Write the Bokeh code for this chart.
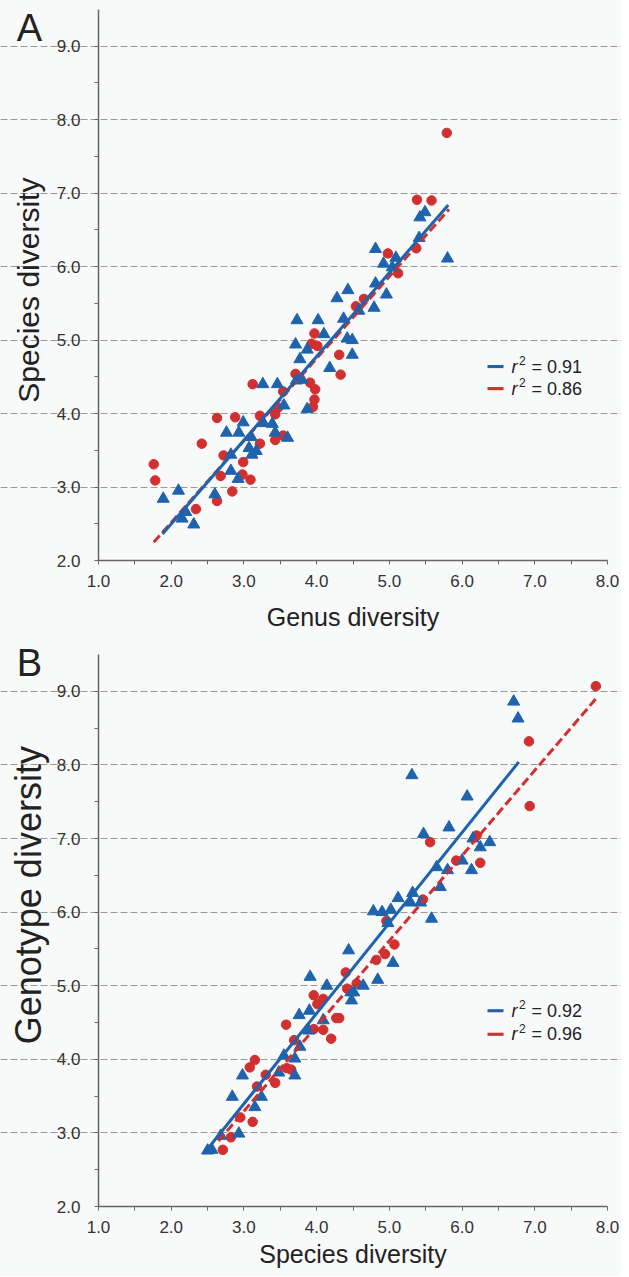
import math
from bokeh.plotting import figure
from bokeh.layouts import column
from bokeh.models import FixedTicker, NumeralTickFormatter, Label, BoxAnnotation, Range1d
from bokeh.embed import file_html
from bokeh.resources import INLINE

# ---------------- Panel A data: genus diversity (x) vs species diversity (y)
a_red_x = [1.76, 1.78, 2.42, 2.34, 2.63, 2.88, 2.72, 2.68, 2.63, 2.84, 2.99, 2.98, 3.09, 3.12,
           3.22, 3.22, 3.54, 3.47, 3.43, 3.43, 3.54, 3.71, 3.91, 3.98, 3.97, 3.95, 3.97, 3.93,
           4.01, 4.31, 4.33, 4.54, 4.65, 5.79, 5.38, 5.58, 5.37, 4.98, 5.12]
a_red_y = [3.31, 3.09, 3.59, 2.70, 3.94, 3.95, 3.43, 3.15, 2.81, 2.94, 3.34, 3.17, 3.10, 4.40,
           3.97, 3.59, 4.30, 4.08, 3.99, 3.64, 3.70, 4.54, 4.42, 4.33, 4.19, 4.09, 5.09, 4.95,
           4.92, 4.80, 4.53, 5.46, 5.56, 7.82, 6.91, 6.90, 6.25, 6.18, 5.91]
a_blue_x = [1.89, 2.10, 2.15, 2.20, 2.31, 2.60, 2.76, 2.99, 2.93, 2.82, 2.82, 2.92, 3.10, 3.07,
            3.17, 3.11, 3.26, 3.27, 3.39, 3.43, 3.46, 3.55, 3.60, 3.71, 3.73, 3.77, 3.87, 3.72,
            3.80, 3.87, 4.02, 4.10, 4.18, 4.28, 4.43, 4.37, 4.42, 4.49, 4.49, 4.58, 4.79, 4.96,
            4.81, 5.04, 5.09, 4.92, 4.81, 5.42, 5.49, 5.41, 5.80]
a_blue_y = [2.84, 2.95, 2.57, 2.66, 2.49, 2.90, 3.74, 3.88, 3.74, 3.44, 3.22, 3.11, 3.68, 3.53,
            3.49, 3.44, 4.40, 3.87, 3.86, 3.74, 4.40, 4.11, 3.67, 4.94, 5.27, 4.74, 4.87, 4.45,
            4.46, 4.06, 5.27, 5.08, 4.62, 5.57, 5.68, 5.29, 5.02, 5.00, 4.80, 5.40, 5.44, 5.62,
            5.77, 5.99, 6.12, 6.04, 6.24, 6.67, 6.74, 6.39, 6.11]
a_blue_fit_x = [1.88, 5.81]
a_blue_fit_y = [2.36, 6.84]
a_red_fit_x = [1.76, 5.82]
a_red_fit_y = [2.25, 6.78]
a_r2 = ["0.91", "0.86"]

# ---------------- Panel B data: species diversity (x) vs genotype diversity (y)
b_red_x = [2.71, 2.82, 2.95, 3.12, 3.08, 3.15, 3.18, 3.30, 3.43, 3.58, 3.59, 3.65, 3.69, 3.96,
           4.01, 4.09, 3.96, 4.09, 4.20, 4.27, 4.31, 4.40, 4.42, 4.55, 4.82, 4.94, 5.07, 4.96,
           5.46, 5.56, 5.92, 6.20, 6.25, 6.92, 6.93, 7.84]
b_red_y = [2.77, 2.94, 3.21, 3.15, 3.89, 3.99, 3.63, 3.79, 3.68, 4.47, 3.88, 3.86, 4.26, 4.87,
           4.75, 4.82, 4.41, 4.40, 4.28, 4.56, 4.56, 5.18, 4.96, 5.03, 5.35, 5.43, 5.56, 5.88,
           6.17, 6.95, 6.70, 7.04, 6.67, 8.32, 7.44, 9.07]
b_blue_x = [2.50, 2.56, 2.68, 2.93, 2.84, 2.98, 3.15, 3.24, 3.48, 3.55, 3.70, 3.70, 3.77, 3.76,
            3.90, 3.91, 3.89, 4.09, 4.14, 4.44, 4.47, 4.48, 4.51, 4.64, 4.84, 5.05, 4.78, 4.90,
            5.02, 4.98, 5.12, 5.29, 5.32, 5.43, 5.58, 5.47, 5.31, 5.65, 5.80, 5.70, 5.82, 6.00,
            6.13, 6.15, 6.25, 6.38, 6.07, 6.71, 6.77]
b_blue_y = [2.76, 2.77, 2.96, 2.99, 3.49, 3.78, 3.35, 3.49, 3.82, 4.05, 4.01, 3.78, 4.17, 4.60,
            4.66, 5.12, 4.39, 4.53, 5.00, 5.48, 4.91, 4.80, 4.91, 5.00, 5.08, 5.31, 6.01, 6.00,
            6.03, 5.85, 6.19, 6.13, 6.26, 6.13, 5.91, 7.06, 7.86, 6.61, 6.57, 6.34, 7.15, 6.70,
            6.57, 7.00, 6.88, 6.95, 7.57, 8.86, 8.63]
b_blue_fit_x = [2.45, 6.78]
b_blue_fit_y = [2.72, 8.04]
b_red_fit_x = [2.65, 7.85]
b_red_fit_y = [2.89, 8.91]
b_r2 = ["0.92", "0.96"]

x_ticks = [1, 2, 3, 4, 5, 6, 7, 8]
y_ticks = [2, 3, 4, 5, 6, 7, 8, 9]

BLUE = "#1f63ad"
RED = "#d0302f"
BG = "#f8f9f9"
FONT = "Liberation Sans"

# The plotting frame fills the whole figure; axes are pinned with fixed_location so that
# labels placed beside them are never clipped.
PX_PER_X = 509 / 7
X_RANGE = (1 - 98 / PX_PER_X, 8 + 14 / PX_PER_X)
FIG_W = 621


def make_panel(letter, letter_y, xlabel, ylabel, ylabel_y, ylabel_size,
               red_x, red_y, blue_x, blue_y, bfx, bfy, rfx, rfy, r2,
               height, top_px, bottom_px, xlabel_standoff, leg_y):
    px_per_y = (height - top_px - bottom_px) / 7.5
    y_rng = (2 - bottom_px / px_per_y, 9.5 + top_px / px_per_y)
    p = figure(width=FIG_W, height=height, output_backend="svg", toolbar_location=None,
               x_range=Range1d(*X_RANGE), y_range=Range1d(*y_rng),
               min_border_left=0, min_border_right=0, min_border_top=0, min_border_bottom=0)
    p.background_fill_color = BG
    p.border_fill_color = BG
    p.outline_line_color = None

    p.xgrid.grid_line_color = None
    p.ygrid.grid_line_color = "#9a9a9a"
    p.ygrid.grid_line_dash = "7 3"
    p.ygrid.grid_line_width = 1
    p.ygrid.bounds = (1, 8)

    p.yaxis.fixed_location = 1.0
    p.xaxis.fixed_location = 2.0
    p.yaxis.bounds = (2, 9.5)
    p.xaxis.bounds = (1, 8)
    p.xaxis.ticker = FixedTicker(ticks=x_ticks, minor_ticks=[t + 0.5 for t in x_ticks[:-1]])
    p.yaxis.ticker = FixedTicker(ticks=y_ticks, minor_ticks=[t + 0.5 for t in y_ticks[:-1]])
    p.ygrid.ticker = FixedTicker(ticks=y_ticks[1:])
    for ax in (p.xaxis, p.yaxis):
        ax.formatter = NumeralTickFormatter(format="0.0")
        ax.axis_line_color = "#666666"
        ax.axis_line_width = 1.5
        ax.major_tick_line_color = "#666666"
        ax.minor_tick_line_color = "#666666"
        ax.major_tick_in = 0
        ax.major_tick_out = 4
        ax.minor_tick_in = 0
        ax.minor_tick_out = 4
        ax.major_label_text_font = FONT
        ax.major_label_text_font_size = "17px"
        ax.major_label_text_color = "#333333"
    p.yaxis.major_label_standoff = 14
    p.xaxis.major_label_standoff = 10
    p.xaxis.axis_label = xlabel
    p.xaxis.axis_label_text_font = FONT
    p.xaxis.axis_label_text_font_size = "25px"
    p.xaxis.axis_label_text_font_style = "normal"
    p.xaxis.axis_label_text_color = "#222222"
    p.xaxis.axis_label_standoff = xlabel_standoff

    # points
    p.scatter(red_x, red_y, marker="circle", size=9.5, fill_color=RED, line_color=RED)
    p.scatter(blue_x, blue_y, marker="triangle", size=12, fill_color=BLUE, line_color=BLUE)
    # regression lines
    p.line(rfx, rfy, line_color=RED, line_width=3, line_dash="9 4")
    p.line(bfx, bfy, line_color=BLUE, line_width=3)

    # y label and panel letter, left of the axis
    p.add_layout(Label(x=1.0, y=ylabel_y, x_offset=-70, text=ylabel, angle=math.pi / 2,
                       text_align="center", text_baseline="middle", text_font=FONT,
                       text_font_size=ylabel_size, text_color="#222222"))
    p.add_layout(Label(x=1.0, y=letter_y, x_offset=-69, text=letter, text_align="center",
                       text_baseline="middle", text_font=FONT, text_font_size="38px",
                       text_color="#222222"))

    # custom legend
    for i, (col, val) in enumerate(zip([BLUE, RED], r2)):
        yy = leg_y[i]
        p.add_layout(BoxAnnotation(left=6.35, right=6.57, bottom=yy - 0.021, top=yy + 0.021,
                                   fill_color=col, fill_alpha=1, line_color=None))
        p.add_layout(Label(x=6.68, y=yy, text="r", text_font=FONT, text_font_style="italic",
                           text_font_size="18px", text_baseline="middle", text_color="#222222"))
        p.add_layout(Label(x=6.68, x_offset=7.5, y=yy + 0.085, text="2", text_font=FONT,
                           text_font_size="12px", text_baseline="middle", text_color="#222222"))
        p.add_layout(Label(x=6.68, x_offset=20, y=yy, text="= " + val, text_font=FONT,
                           text_font_size="18px", text_baseline="middle", text_color="#222222"))
    return p


pa = make_panel("A", 9.25, "Genus diversity", "Species diversity", 5.68, "30px",
                a_red_x, a_red_y, a_blue_x, a_blue_y,
                a_blue_fit_x, a_blue_fit_y, a_red_fit_x, a_red_fit_y, a_r2,
                height=640, top_px=9, bottom_px=80, xlabel_standoff=13,
                leg_y=[4.64, 4.34])
pb = make_panel("B", 9.38, "Species diversity", "Genotype diversity", 6.23, "36px",
                b_red_x, b_red_y, b_blue_x, b_blue_y,
                b_blue_fit_x, b_blue_fit_y, b_red_fit_x, b_red_fit_y, b_r2,
                height=636, top_px=14, bottom_px=70, xlabel_standoff=4,
                leg_y=[4.66, 4.34])

layout = column(pa, pb, spacing=0)
layout.styles = {"background-color": BG}
open("out.html", "w").write(file_html(layout, INLINE))
